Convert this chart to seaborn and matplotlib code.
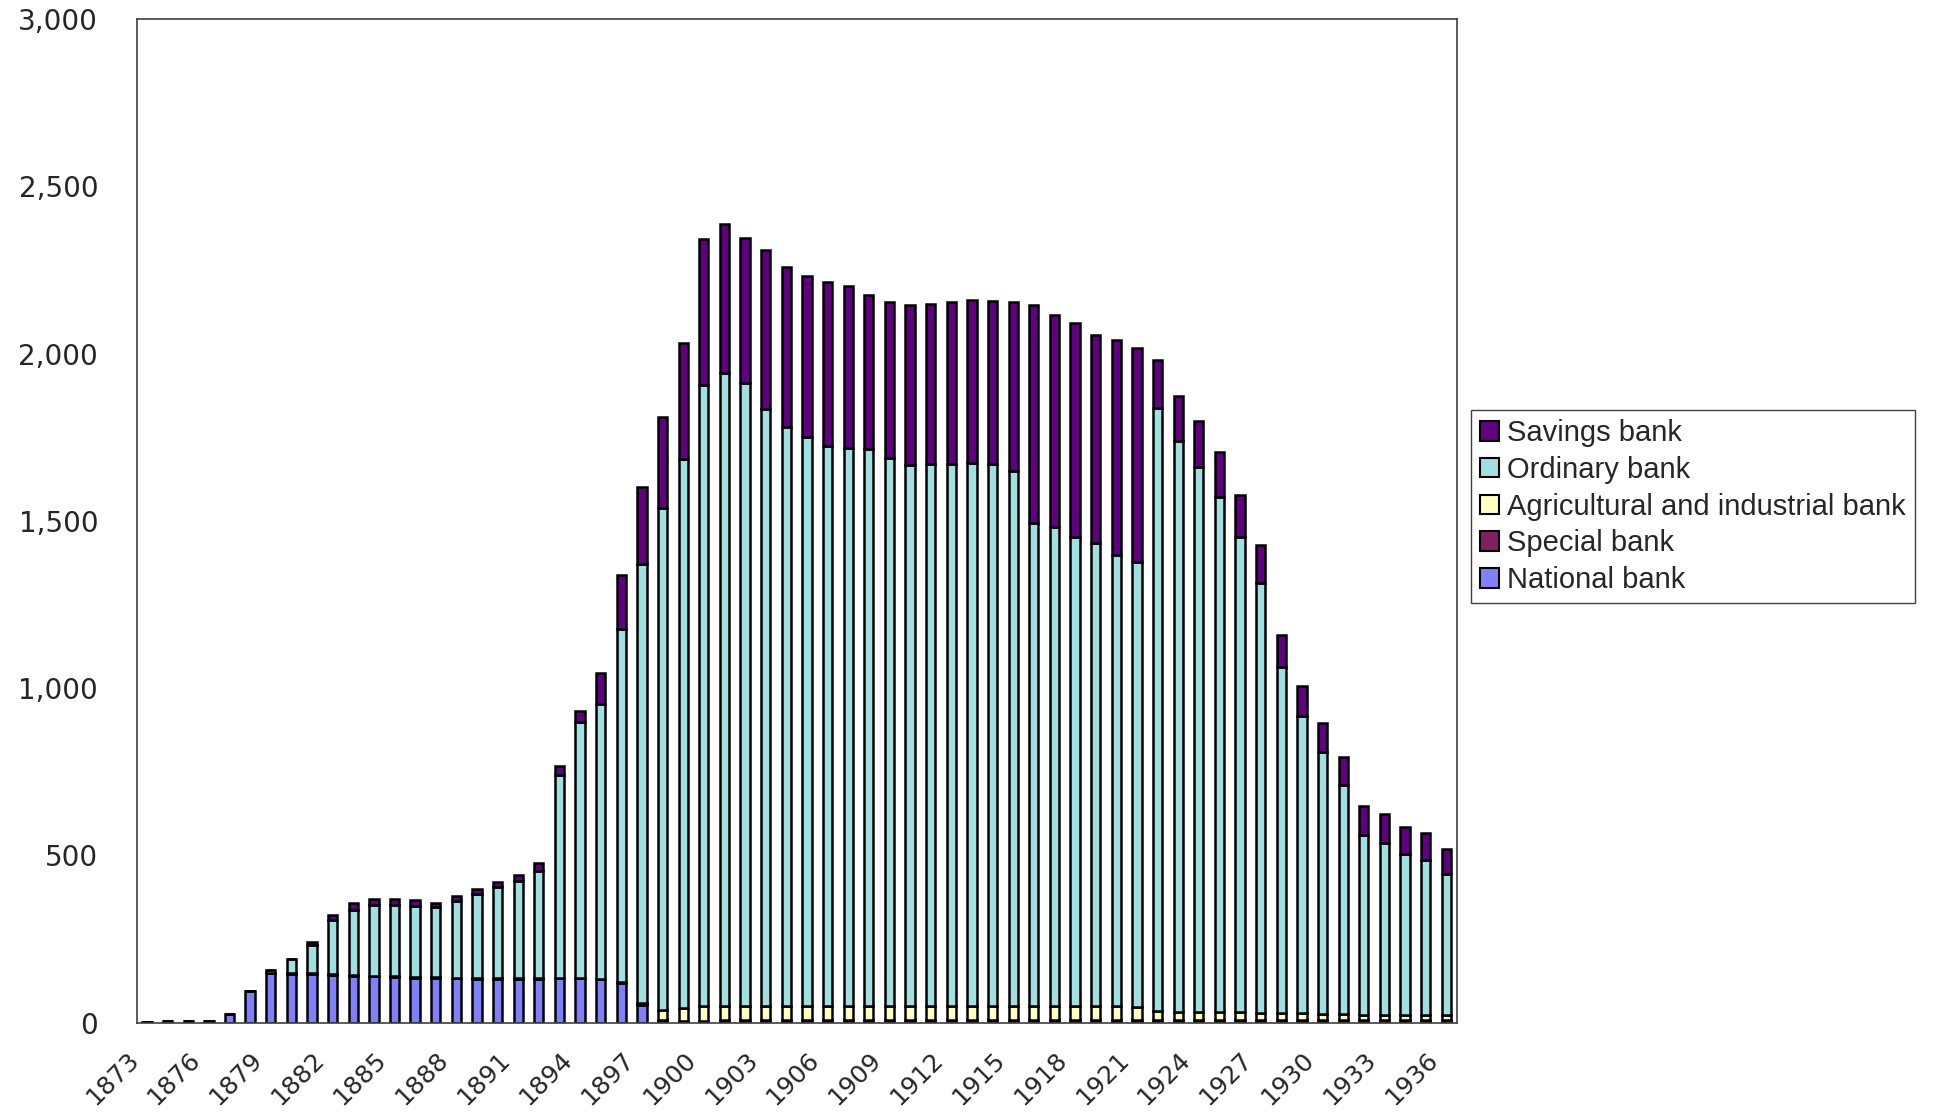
## Stacked bars: number of banks by type, 1873-1936
import numpy as np
import pandas as pd
import matplotlib
matplotlib.use('Agg')
import matplotlib.pyplot as plt
import matplotlib.transforms as mtransforms
from matplotlib.patches import Patch
from matplotlib.ticker import FuncFormatter
import seaborn as sns

## Data
years = list(range(1873, 1937))

national = [1, 4, 4, 5, 26, 95, 148, 146, 146, 142,
            140, 139, 138, 135, 135, 133, 132, 132, 132, 132,
            133, 133, 130, 120, 53, 4, 0, 0, 0, 0,
            0, 0, 0, 0, 0, 0, 0, 0, 0, 0,
            0, 0, 0, 0, 0, 0, 0, 0, 0, 0,
            0, 0, 0, 0, 0, 0, 0, 0, 0, 0,
            0, 0, 0, 0]

special = [0, 0, 0, 0, 0, 0, 0, 1, 1, 2,
           2, 2, 2, 2, 2, 2, 2, 2, 2, 2,
           2, 2, 2, 2, 3, 4, 5, 6, 7, 7,
           7, 7, 7, 7, 7, 7, 7, 7, 7, 7,
           7, 7, 7, 7, 7, 7, 7, 7, 7, 7,
           7, 7, 7, 7, 7, 7, 7, 7, 7, 7,
           7, 7, 7, 7]

agricultural = [0, 0, 0, 0, 0, 0, 0, 0, 0, 0,
                0, 0, 0, 0, 0, 0, 0, 0, 0, 0,
                0, 0, 0, 0, 4, 29, 40, 43, 42, 42,
                42, 42, 42, 42, 42, 42, 42, 42, 42, 42,
                42, 42, 42, 42, 42, 42, 42, 42, 40, 28,
                25, 25, 25, 25, 23, 23, 23, 18, 18, 16,
                16, 16, 16, 16]

ordinary = [0, 0, 0, 0, 0, 0, 10, 44, 85, 163,
            196, 212, 213, 213, 210, 228, 251, 271, 290, 319,
            605, 763, 821, 1054, 1311, 1500, 1640, 1857, 1893, 1862,
            1784, 1732, 1702, 1676, 1669, 1666, 1640, 1618, 1621, 1621,
            1625, 1621, 1599, 1444, 1433, 1403, 1385, 1348, 1331, 1802,
            1708, 1630, 1538, 1420, 1285, 1034, 887, 785, 685, 538,
            515, 482, 462, 421]

savings = [0, 0, 0, 0, 0, 0, 0, 0, 8, 15,
           20, 18, 18, 18, 12, 15, 15, 15, 18, 23,
           26, 33, 93, 162, 229, 273, 347, 435, 445, 433,
           477, 477, 480, 488, 485, 459, 465, 478, 477, 484,
           485, 488, 505, 652, 634, 640, 620, 643, 639, 144,
           134, 135, 135, 125, 113, 96, 88, 85, 85, 87,
           87, 80, 82, 74]

# legend / stacking order: first entry sits on top
bank_types = ['Savings bank', 'Ordinary bank', 'Agricultural and industrial bank',
              'Special bank', 'National bank']
colors = ['#600080', '#A0E0E0', '#FFFFC0', '#802060', '#8080FF']

df = pd.DataFrame({'year': years,
                   'National bank': national,
                   'Special bank': special,
                   'Agricultural and industrial bank': agricultural,
                   'Ordinary bank': ordinary,
                   'Savings bank': savings})
long_df = df.melt(id_vars='year', var_name='type', value_name='banks')

## Plot
sns.set_style('white')
plt.rcParams['font.family'] = ['DejaVu Sans']

fig, ax = plt.subplots(figsize=(19.36, 11.15), dpi=100)
fig.subplots_adjust(left=0.0706, right=0.7524, bottom=0.0828, top=0.983)

sns.histplot(data=long_df, x='year', weights='banks', hue='type',
             hue_order=bank_types, palette=dict(zip(bank_types, colors)),
             multiple='stack', discrete=True, shrink=0.45,
             edgecolor='black', linewidth=1.8, alpha=1, legend=False, ax=ax)

ax.set_xlim(1872.5, 1936.5)
ax.set_ylim(0, 3000)
ax.set_xlabel('')
ax.set_ylabel('')

# y axis
ax.set_yticks(range(0, 3001, 500))
ax.yaxis.set_major_formatter(FuncFormatter(lambda v, p: f'{int(v):,}'))
ax.tick_params(axis='y', direction='inout', length=11.5, width=1,
               color='#404040', pad=22, labelsize=20)

# x axis: a tick at every category border, a label every third year
ax.set_xticks(years[::3])
ax.set_xticklabels([str(y) for y in years[::3]])
ax.set_xticks(np.arange(1872.5, 1937, 1), minor=True)
ax.tick_params(axis='x', which='major', length=0, pad=24, labelsize=18)
ax.tick_params(axis='x', which='minor', direction='inout', length=11.5,
               width=1, color='#404040')
shift = mtransforms.ScaledTranslation(-12 / 100, 0, fig.dpi_scale_trans)
for lab in ax.get_xticklabels():
    lab.set_rotation(45)
    lab.set_ha('right')
    lab.set_va('center')
    lab.set_rotation_mode('anchor')
    lab.set_transform(lab.get_transform() + shift)

for sp in ax.spines.values():
    sp.set_color('#404040')
    sp.set_linewidth(1.2)

# legend
handles = [Patch(facecolor=c, edgecolor='black', linewidth=1.5, label=t)
           for t, c in zip(bank_types, colors)]
leg = fig.legend(handles=handles, loc='upper left', bbox_to_anchor=(0.760, 0.632),
                 frameon=True, fancybox=False, framealpha=1, edgecolor='#404040',
                 prop={'family': 'Liberation Sans', 'size': 21},
                 handlelength=0.65, handleheight=0.65, handletextpad=0.28,
                 labelspacing=0.3, borderpad=0.3, borderaxespad=0)
leg.get_frame().set_linewidth(1.0)

fig.savefig('out.png', dpi=100)
